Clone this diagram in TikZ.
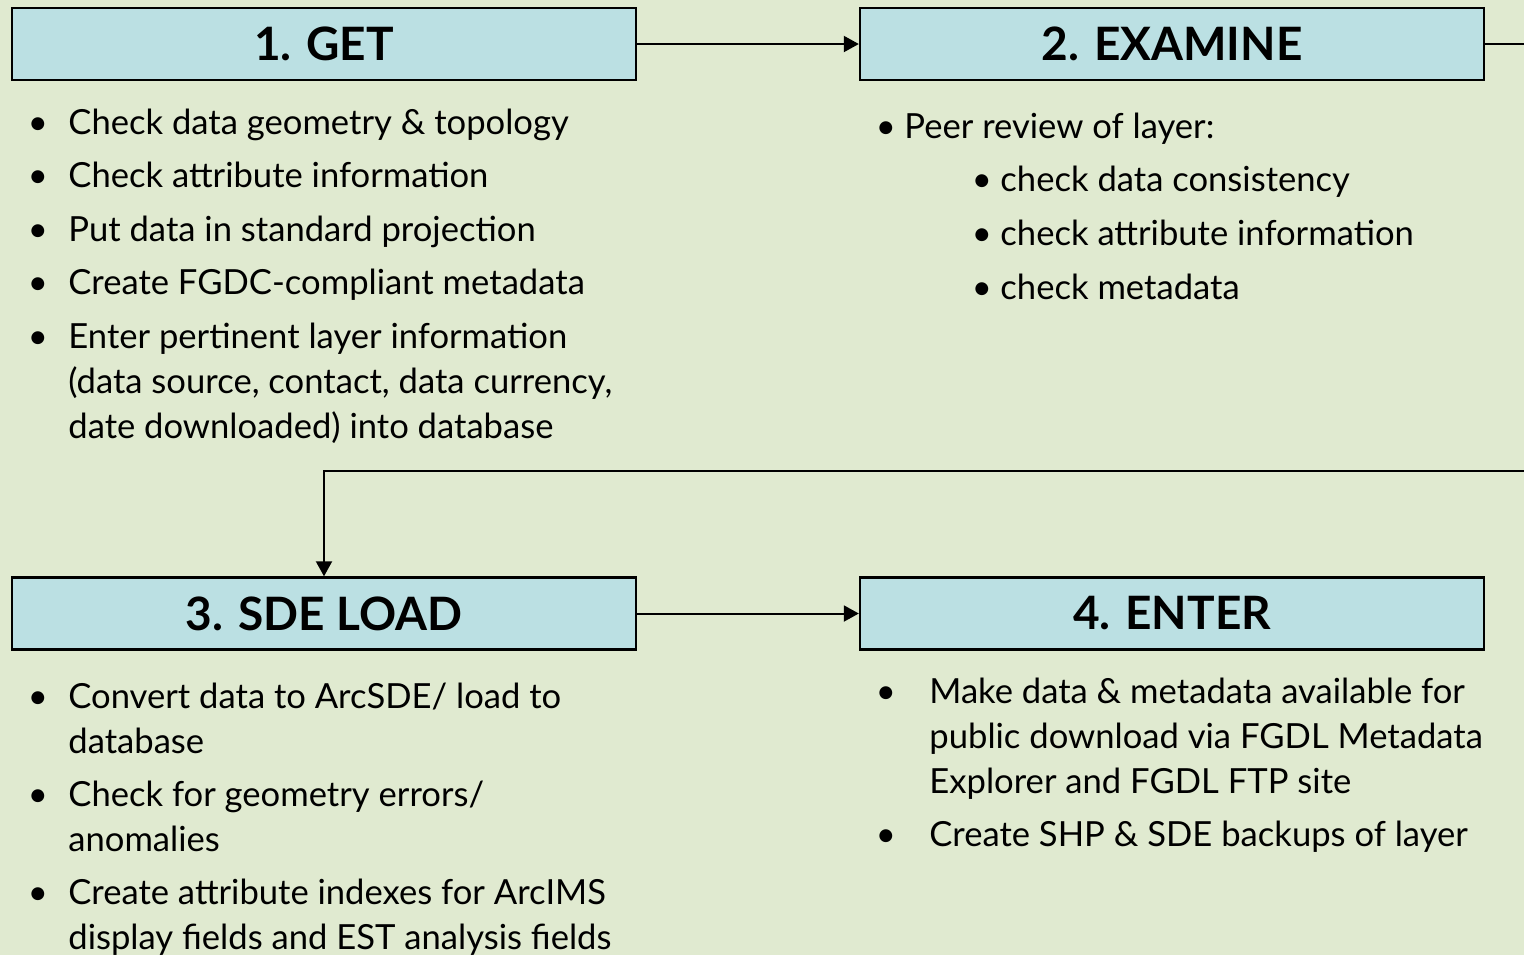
\documentclass[tikz,border=0pt]{standalone}
\usepackage{fontspec}
\setmainfont{Lato}
\usetikzlibrary{arrows.meta}
\definecolor{bgcol}{HTML}{E0EAD0}
\definecolor{boxcol}{HTML}{BBE0E3}

\begin{document}
\begin{tikzpicture}[x=0.5pt, y=-0.5pt,
    stage/.style={draw, line width=1.2pt, fill=boxcol, minimum width=312pt,
      minimum height=36pt, inner sep=0pt, font=\bfseries\fontsize{23}{28}\selectfont},
    itm/.style={anchor=base west, inner sep=0pt, align=left,
      font=\fontsize{17.3}{22.5}\selectfont},
    dot/.style={anchor=base, inner sep=0pt, font=\fontsize{17.3}{22.5}\selectfont},
    flow/.style={line width=1pt, -{Triangle[length=7.5pt, width=8pt]}}]

    \clip (0,0) rectangle (1524,955);
    \fill[bgcol] (0,0) rectangle (1524,955);

    % the four stages
    \node[stage] (get) at (324,44) {1. GET};
    \node[stage] (exam) at (1172,44) {2. EXAMINE};
    \node[stage] (load) at (324,613.5) {3. SDE LOAD};
    \node[stage] (enter) at (1172,613.5) {4. ENTER};

    \coordinate (out) at (1560,44);
    \coordinate (back) at (1560,471);

    \draw[flow] (get) -- (exam);
    \draw[flow] (exam.east) -- (out) -- (back) -| (load.north);
    \draw[flow] (load) -- (enter);

    % get (multi-line items sit on their last baseline)
    \node[dot] (g1d) at (38,134) {•};
    \node[itm] (g1) at (68,134) {Check data geometry \& topology};
    \node[dot] (g2d) at (38,187) {•};
    \node[itm] (g2) at (68,187) {Check attribute information};
    \node[dot] (g3d) at (38,241) {•};
    \node[itm] (g3) at (68,241) {Put data in standard projection};
    \node[dot] (g4d) at (38,294) {•};
    \node[itm] (g4) at (68,294) {Create FGDC-compliant metadata};
    \node[dot] (g5d) at (38,348) {•};
    \node[itm] (g5) at (68,438) {Enter pertinent layer information\\(data source, contact, data currency,\\date downloaded) into database};

    % examine
    \node[dot] (e1d) at (886,138) {•};
    \node[itm] (e1) at (904,138) {Peer review of layer:};
    \node[dot] (e2d) at (982,191) {•};
    \node[itm] (e2) at (1000,191) {check data consistency};
    \node[dot] (e3d) at (982,245) {•};
    \node[itm] (e3) at (1000,245) {check attribute information};
    \node[dot] (e4d) at (982,299) {•};
    \node[itm] (e4) at (1000,299) {check metadata};

    % sde load
    \node[dot] (l1d) at (38,708) {•};
    \node[itm] (l1) at (68,753) {Convert data to ArcSDE/ load to\\database};
    \node[dot] (l2d) at (38,806) {•};
    \node[itm] (l2) at (68,851) {Check for geometry errors/\\anomalies};
    \node[dot] (l3d) at (38,904) {•};
    \node[itm] (l3) at (68,949) {Create attribute indexes for ArcIMS\\display fields and EST analysis fields};

    % enter
    \node[dot] (n1d) at (886,703) {•};
    \node[itm] (n1) at (929,793) {Make data \& metadata available for\\public download via FGDL Metadata\\Explorer and FGDL FTP site};
    \node[dot] (n2d) at (886,846) {•};
    \node[itm] (n2) at (929,846) {Create SHP \& SDE backups of layer};
\end{tikzpicture}
\end{document}
